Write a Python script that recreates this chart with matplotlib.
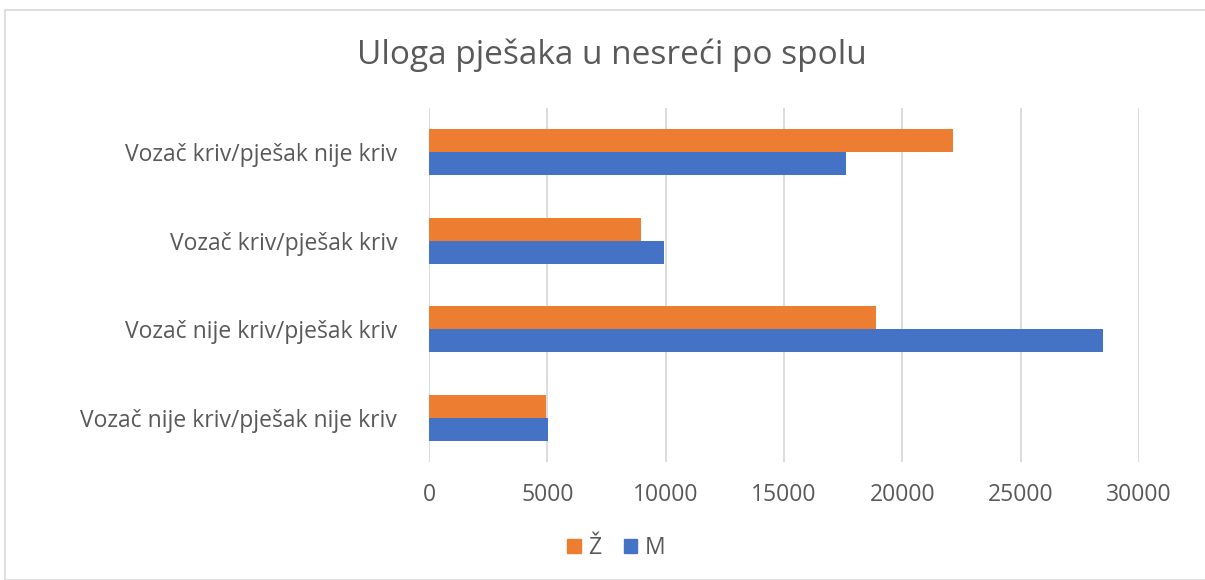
import matplotlib
matplotlib.use("Agg")
import matplotlib.pyplot as plt
from matplotlib.patches import Rectangle, Patch
import numpy as np

categories = ["Vozač nije kriv/pješak nije kriv", "Vozač nije kriv/pješak kriv",
              "Vozač kriv/pješak kriv", "Vozač kriv/pješak nije kriv"]
zene = [4960, 18870, 8960, 22130]
muski = [5030, 28460, 9930, 17610]
series_names = ["Ž", "M"]
xticks = [0, 5000, 10000, 15000, 20000, 25000, 30000]

plt.rcParams['font.family'] = ['Open Sans', 'DejaVu Sans']
text_col = "#595959"
orange = "#ED7D31"
blue = "#4472C4"

fig = plt.figure(figsize=(12.05, 5.8), dpi=100)
W, H = 1205, 580
ax = fig.add_axes([429 / W, 1 - 462 / H, (1139 - 429) / W, (462 - 108) / H])

y = np.arange(len(categories))
h = 0.26
ax.barh(y + h / 2, zene, height=h, color=orange, zorder=3, label=series_names[0])
ax.barh(y - h / 2, muski, height=h, color=blue, zorder=3, label=series_names[1])

ax.set_xlim(0, 30000)
ax.set_ylim(-0.5, 3.5)
ax.set_xticks(xticks)
ax.set_xticklabels([str(t) for t in xticks], fontsize=16.5, color=text_col)
ax.set_yticks(y)
ax.set_yticklabels(categories, fontsize=16.5, color=text_col)
ax.tick_params(axis='both', length=0)
ax.tick_params(axis='x', pad=15)
ax.tick_params(axis='y', pad=23)
ax.grid(axis='x', color="#D9D9D9", linewidth=1.3, zorder=0)
for s in ax.spines.values():
    s.set_visible(False)

fig.text(612 / W, 1 - 55 / H, "Uloga pješaka u nesreći po spolu", ha='center', va='center',
         fontsize=24, color=text_col)

handles = [Patch(color=orange), Patch(color=blue)]
fig.legend(handles, series_names, loc='center', bbox_to_anchor=(616 / W, 1 - 548 / H),
           ncol=2, frameon=False, fontsize=16.5, labelcolor=text_col,
           handlelength=0.6, handleheight=0.6, handletextpad=0.3, columnspacing=1.0)

fig.patches.append(Rectangle((5 / W, 0), 1.2, 1 - 10 / H, transform=fig.transFigure,
                             fill=False, edgecolor="#D9D9D9", linewidth=1.2))

fig.savefig("out.png", dpi=100, facecolor="white")
